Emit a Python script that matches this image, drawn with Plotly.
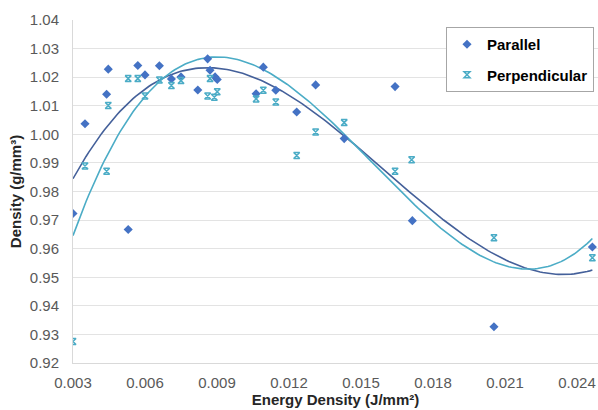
import numpy as np
import plotly.graph_objects as go

# Parallel series
par_x = [0.0030, 0.0035, 0.0044, 0.00447, 0.0053, 0.0057, 0.0060, 0.0066, 0.0071, 0.0075,
         0.0082, 0.00861, 0.00871, 0.00892, 0.00901, 0.01063, 0.01093, 0.01145, 0.01232,
         0.01311, 0.0143, 0.01642, 0.01714, 0.02054, 0.02464]
par_y = [0.9723, 1.0037, 1.0140, 1.0228, 0.9667, 1.0241, 1.0208, 1.0240, 1.0194, 1.0201,
         1.0155, 1.0264, 1.0224, 1.0201, 1.0192, 1.0142, 1.0235, 1.0154, 1.0078,
         1.0173, 0.9985, 1.0167, 0.9698, 0.9327, 0.9606]

# Perpendicular series
per_x = [0.0030, 0.0035, 0.0044, 0.00447, 0.0053, 0.0057, 0.0060, 0.0066, 0.0071, 0.0075,
         0.00861, 0.00871, 0.00889, 0.00901, 0.01063, 0.01093, 0.01145, 0.01232,
         0.01311, 0.0143, 0.01642, 0.01711, 0.02054, 0.02464]
per_y = [0.9275, 0.9889, 0.9871, 1.0101, 1.0195, 1.0195, 1.0134, 1.0190, 1.0171, 1.0188,
         1.0134, 1.0195, 1.0130, 1.0149, 1.0124, 1.0154, 1.0113, 0.9926,
         1.0008, 1.0041, 0.9871, 0.9911, 0.9638, 0.9568]

# Perpendicular trendline, values
per_trend_x = [0.0030, 0.0066, 0.0089, 0.01093, 0.0143, 0.01714, 0.02054, 0.02211, 0.02464]
per_trend_y = [0.9644, 1.0190, 1.0265, 1.0235, 0.9985, 0.9772, 0.9553, 0.9528, 0.9635]

x_ticks = [0.003, 0.006, 0.009, 0.012, 0.015, 0.018, 0.021, 0.024]
y_ticks = [0.92, 0.93, 0.94, 0.95, 0.96, 0.97, 0.98, 0.99, 1.00, 1.01, 1.02, 1.03, 1.04]

# Polynomial (order 3) trendlines
def trend(xs, ys):
    c = np.polyfit(xs, ys, 3)
    xx = np.linspace(min(xs), max(xs), 200)
    return xx, np.polyval(c, xx)

px_t, py_t = trend(par_x, par_y)
qx_t, qy_t = trend(per_trend_x, per_trend_y)

C_PAR = "#4472C4"
C_PAR_LINE = "#44609A"
C_PER = "#4BACC6"

fig = go.Figure()
fig.add_trace(go.Scatter(x=px_t, y=py_t, mode="lines", line=dict(color=C_PAR_LINE, width=1.6),
                         showlegend=False, hoverinfo="skip"))
fig.add_trace(go.Scatter(x=qx_t, y=qy_t, mode="lines", line=dict(color=C_PER, width=1.6),
                         showlegend=False, hoverinfo="skip"))
fig.add_trace(go.Scatter(x=par_x, y=par_y, mode="markers", name="Parallel",
                         legendgroup="a",
                         marker=dict(symbol="diamond", size=7, color=C_PAR)))
fig.add_trace(go.Scatter(x=per_x, y=per_y, mode="markers", name="Perpendicular",
                         legendgroup="b",
                         marker=dict(symbol="hourglass-open", size=6, color=C_PER,
                                     line=dict(color=C_PER, width=1.5))))

FONT = "Liberation Sans, Arial, sans-serif"
tick_font = dict(family=FONT, size=15, color="#595959")
title_font = dict(family=FONT, size=15, color="#262626", weight="bold")

W, H = 598, 410
L, T, R = 73, 20, 0
BOTTOM = 363
PW = W - L - R
PH = BOTTOM - T

fig.update_layout(
    width=W, height=H,
    margin=dict(l=L, r=R, t=T, b=H - BOTTOM, autoexpand=False),
    paper_bgcolor="white", plot_bgcolor="white",
    legend=dict(
        x=(446 - L) / PW, y=1 - (27 - T) / PH, xanchor="left", yanchor="top",
        bgcolor="white", bordercolor="#A6A6A6", borderwidth=1,
        font=dict(family=FONT, size=15, color="black", weight="bold"),
        traceorder="grouped", tracegroupgap=8,
    ),
)
fig.update_xaxes(
    range=[0.003, 0.003 + PW / 24000],
    tickvals=x_ticks, tickformat=".3f",
    tickfont=tick_font, ticks="", ticklabelstandoff=6, ticklabeloverflow="allow",
    showgrid=False, showline=True, linecolor="#D9D9D9", linewidth=1,
    zeroline=False, automargin=False,
    title=dict(text="Energy Density (J/mm²)", font=title_font, standoff=4),
)
fig.update_yaxes(
    range=[0.92, 1.04],
    tickvals=y_ticks, tickformat=".2f",
    tickfont=tick_font, ticks="", ticklabelstandoff=10,
    showgrid=True, gridcolor="#E3E3E3", gridwidth=1,
    showline=True, linecolor="#D9D9D9", linewidth=1,
    zeroline=False, automargin=False,
    title=dict(text="Density (g/mm³)", font=title_font, standoff=4),
)

fig.write_html(
    "out.html",
    config={"displayModeBar": False},
    post_script="document.body.style.margin='0';"
                "document.documentElement.style.overflow='hidden';",
)
